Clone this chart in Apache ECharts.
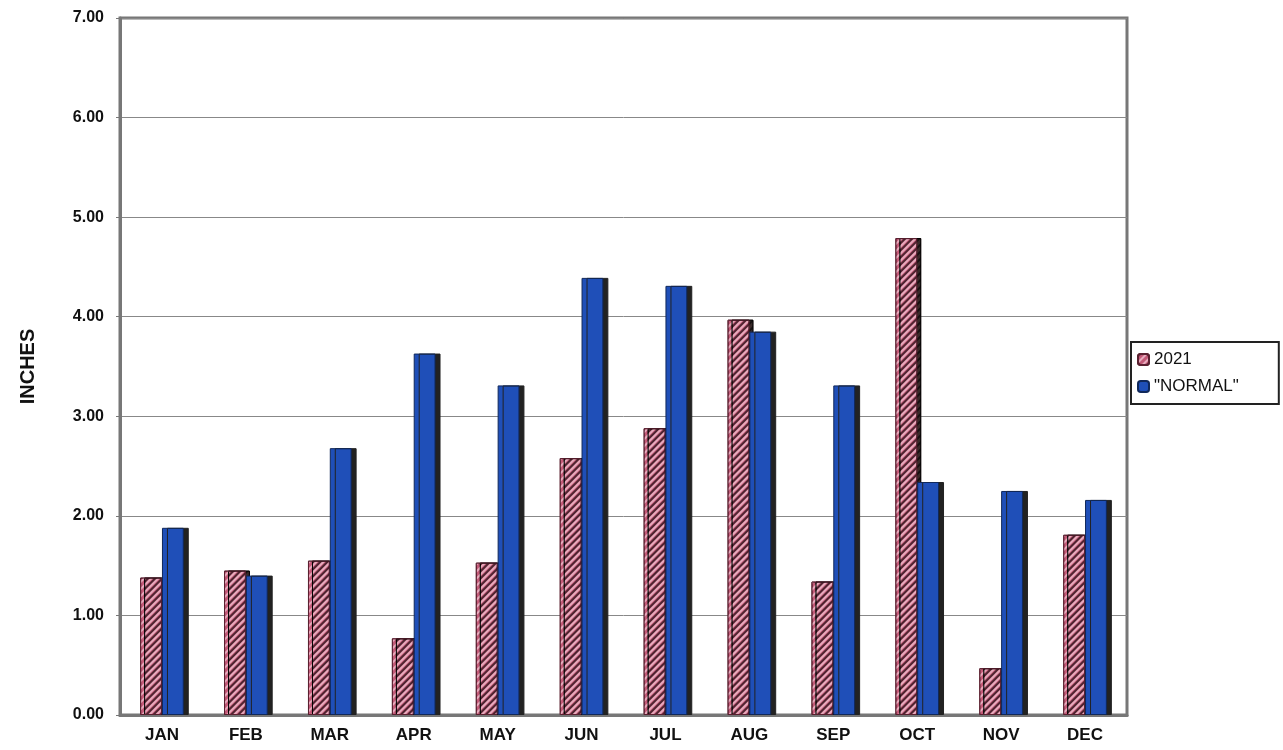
<!DOCTYPE html>
<html style="height: 100%">
<head>
	<meta charset="utf-8">
</head>
<body style="height: 100%; margin: 0; background: #fff">
<div id="container" style="width: 1283px; height: 750px"></div>
<script src="https://cdn.jsdelivr.net/npm/echarts@6/dist/echarts.min.js"></script>
<script type="text/javascript">
	var months = ['JAN', 'FEB', 'MAR', 'APR', 'MAY', 'JUN', 'JUL', 'AUG', 'SEP', 'OCT', 'NOV', 'DEC'];
	var rain2021 = [1.38, 1.45, 1.55, 0.77, 1.53, 2.58, 2.88, 3.97, 1.34, 4.79, 0.47, 1.81];
	var rainNormal = [1.88, 1.40, 2.68, 3.63, 3.31, 4.39, 4.31, 3.85, 3.31, 2.34, 2.25, 2.16];

	var myChart = echarts.init(document.getElementById('container'));
	var option = {
		animation: false,
		textStyle: {fontFamily: 'Liberation Sans, Arial', color: '#111'},
		grid: {left: 120, right: 156, top: 18, bottom: 35, show: true, borderColor: '#777', borderWidth: 3},
		legend: {
			orient: 'vertical', left: 1131, top: 342, padding: [9, 40, 9, 6],
			borderColor: '#222', borderWidth: 2, itemWidth: 11, itemHeight: 11, itemGap: 10,
			textStyle: {fontSize: 17, color: '#111'},
			data: ['2021', '"NORMAL"']
		},
		xAxis: {
			type: 'category', data: months,
			axisTick: {show: false},
			axisLine: {lineStyle: {color: '#777', width: 3}},
			axisLabel: {fontSize: 17, color: '#111', margin: 12, fontWeight: 'bold'}
		},
		yAxis: {
			type: 'value', min: 0, max: 7, interval: 1,
			name: 'INCHES', nameLocation: 'middle', nameGap: 82, nameRotate: 90,
			nameTextStyle: {fontSize: 20, fontWeight: 'bold', color: '#111'},
			axisLine: {show: true, lineStyle: {color: '#777', width: 3}},
			axisTick: {show: true, length: 4},
			splitLine: {lineStyle: {color: '#888', width: 1}},
			axisLabel: {fontSize: 16, fontWeight: 'bold', color: '#111', margin: 16,
				formatter: function (v) { return v.toFixed(2); }}
		},
		series: [
			{
				name: '2021', type: 'bar', data: rain2021,
				barGap: '0%', barCategoryGap: '48%',
				itemStyle: {
					color: '#c45a78', borderColor: '#5a2030', borderWidth: 1,
					shadowColor: '#3a2a2a', shadowOffsetX: 4, shadowOffsetY: 0,
					decal: {symbol: 'rect', dashArrayX: [1, 0], dashArrayY: [2, 3], rotation: -Math.PI / 4, color: 'rgba(255,225,235,0.6)'}
				}
			},
			{
				name: '"NORMAL"', type: 'bar', data: rainNormal,
				itemStyle: {
					color: '#1f4fb8', borderColor: '#10285a', borderWidth: 1,
					shadowColor: '#222', shadowOffsetX: 5, shadowOffsetY: 0
				}
			}
		]
	};
	myChart.setOption(option);
</script>
</body>
</html>
